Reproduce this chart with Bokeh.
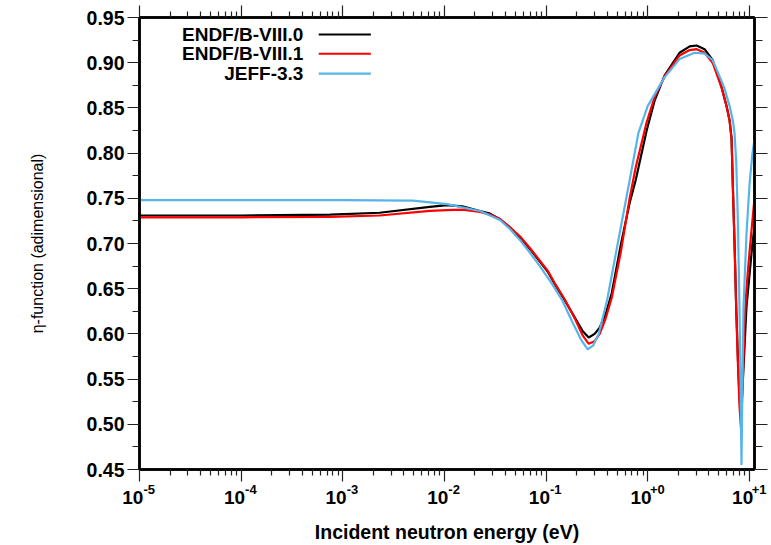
from bokeh.plotting import figure
from bokeh.models import (FixedTicker, LinearAxis, LogAxis, Label, BoxAnnotation,
                          CustomJSTickFormatter, PrintfTickFormatter)
from bokeh.embed import file_html
from bokeh.resources import INLINE

# ---------------- data ----------------
e_b80 = [1e-5, 1e-4, 7.5e-4, 2.3e-3, 7.2e-3, 0.0106, 0.015, 0.0224, 0.0281, 0.0352, 0.0441,
         0.0553, 0.0693, 0.0869, 0.105, 0.122, 0.153, 0.192, 0.230, 0.263, 0.301, 0.337, 0.386,
         0.443, 0.543, 0.665, 0.762, 0.977, 1.17, 1.47, 2.06, 2.59, 3.03, 3.63, 4.35, 5.33,
         5.97, 6.40, 6.69, 6.89, 7.16, 7.44, 7.74, 8.01, 8.29, 8.57, 8.97, 9.38, 10.04,
         10.74, 11.25]
eta_b80 = [0.731, 0.731, 0.732, 0.734, 0.7405, 0.7425, 0.741, 0.736, 0.733, 0.727, 0.718,
           0.707, 0.694, 0.680, 0.668, 0.655, 0.637, 0.618, 0.603, 0.596, 0.600, 0.607, 0.622,
           0.645, 0.698, 0.745, 0.770, 0.825, 0.858, 0.886, 0.911, 0.918, 0.919, 0.915,
           0.903, 0.873, 0.852, 0.836, 0.816, 0.763, 0.700, 0.627, 0.570, 0.530, 0.510,
           0.540, 0.585, 0.630, 0.665, 0.700, 0.718]

e_b81 = [1e-5, 1e-4, 7.5e-4, 2.3e-3, 7.2e-3, 0.0106, 0.015, 0.0224, 0.0281, 0.0352, 0.0441,
         0.0553, 0.0693, 0.0869, 0.105, 0.122, 0.153, 0.192, 0.230, 0.263, 0.301, 0.337, 0.386,
         0.443, 0.543, 0.665, 0.762, 0.977, 1.17, 1.47, 2.06, 2.59, 3.03, 3.63, 4.35, 5.33,
         5.97, 6.40, 6.69, 6.89, 7.16, 7.44, 7.74, 8.01, 8.29, 8.57, 8.97, 9.38, 10.04,
         10.74, 11.25]
eta_b81 = [0.729, 0.729, 0.7295, 0.731, 0.736, 0.737, 0.7375, 0.735, 0.732, 0.727, 0.718,
           0.708, 0.695, 0.681, 0.669, 0.656, 0.638, 0.617, 0.598, 0.589, 0.592, 0.600, 0.617,
           0.640, 0.690, 0.750, 0.784, 0.834, 0.862, 0.885, 0.908, 0.914, 0.915, 0.911,
           0.900, 0.873, 0.852, 0.836, 0.816, 0.763, 0.700, 0.627, 0.565, 0.520, 0.495,
           0.540, 0.610, 0.650, 0.690, 0.726, 0.750]

e_j33 = [1e-5, 1e-4, 1e-3, 4.9e-3, 0.0106, 0.015, 0.0224, 0.0281, 0.0352, 0.0441, 0.0553,
         0.0693, 0.0869, 0.115, 0.143, 0.180, 0.220, 0.257, 0.290, 0.330, 0.400, 0.494,
         0.665, 0.81, 1.00, 1.47, 2.06, 2.90, 3.63, 4.35, 5.65, 6.40, 6.89, 7.16, 7.44, 7.74,
         8.01, 8.20, 8.38, 8.57, 8.77, 9.38, 10.04, 10.74, 11.25]
eta_j33 = [0.748, 0.748, 0.748, 0.7475, 0.7436, 0.740, 0.736, 0.731, 0.726, 0.716, 0.704,
           0.690, 0.675, 0.655, 0.638, 0.614, 0.594, 0.583, 0.587, 0.600, 0.638, 0.693,
           0.770, 0.822, 0.852, 0.884, 0.904, 0.911, 0.910, 0.903, 0.873, 0.852, 0.836,
           0.822, 0.790, 0.720, 0.627, 0.545, 0.455, 0.550, 0.630, 0.710, 0.765, 0.800,
           0.815]

series_names = ["ENDF/B-VIII.0", "ENDF/B-VIII.1", "JEFF-3.3"]
series_colors = ["#000000", "#ff0000", "#56b4e9"]

x_major = [1e-5, 1e-4, 1e-3, 1e-2, 1e-1, 1e0, 1e1]
x_tick_base = "10"
x_tick_exp = ["-5", "-4", "-3", "-2", "-1", "+0", "+1"]
y_major = [0.45, 0.50, 0.55, 0.60, 0.65, 0.70, 0.75, 0.80, 0.85, 0.90, 0.95]
y_minor = [0.475, 0.525, 0.575, 0.625, 0.675, 0.725, 0.775, 0.825, 0.875, 0.925]
x_minor = [m * d for d in x_major[:-1] for m in range(2, 10)]

# legend placement (data units)
leg_text_x = 4.1e-4
leg_line_x0, leg_line_x1 = 5.8e-4, 1.89e-3
leg_y = [0.9312, 0.9099, 0.8879]
leg_half = 0.0012

FONT = "Liberation Sans"

p = figure(width=771, height=545, x_axis_type="log", x_range=(1e-5, 11.25),
           y_range=(0.45, 0.95), output_backend="svg", toolbar_location=None,
           min_border_left=139, min_border_right=16, min_border_top=17,
           min_border_bottom=75)
p.grid.visible = False
p.background_fill_color = "white"
p.border_fill_color = "white"
p.outline_line_color = "black"
p.outline_line_width = 2.5

xt = FixedTicker(ticks=x_major, minor_ticks=x_minor)
yt = FixedTicker(ticks=y_major, minor_ticks=y_minor)
blank = CustomJSTickFormatter(code="return ' ';")

# exponent part of the x tick labels (padded so that it sits right of the tick)
exp_fmt = CustomJSTickFormatter(args=dict(vals=x_major, labels=x_tick_exp), code="""
let best = 0, d = 1e9;
for (let i = 0; i < vals.length; i++) {
  const dd = Math.abs(Math.log10(tick) - Math.log10(vals[i]));
  if (dd < d) { d = dd; best = i; }
}
return '\\u2002\\u2002\\u2002' + labels[best];
""")
# base part of the x tick labels (padded so that it sits left of the tick)
base_fmt = CustomJSTickFormatter(args=dict(base=x_tick_base),
                                 code="return base + '\\u2002\\u2009';")


def style_axis(ax, show_labels):
    ax.axis_line_color = "black"
    ax.axis_line_width = 2.5
    ax.major_tick_line_color = "#222222"
    ax.minor_tick_line_color = "#222222"
    ax.major_tick_line_width = 1.2
    ax.minor_tick_line_width = 1.2
    ax.major_tick_out = 12
    ax.major_tick_in = 0
    ax.minor_tick_out = 6
    ax.minor_tick_in = 0
    ax.major_label_text_color = "black"
    ax.axis_label_text_color = "black"
    if not show_labels:
        ax.formatter = blank
        ax.major_label_text_font_size = "2px"
        ax.major_label_standoff = 0


# bottom axis 1: ticks + exponents
xa = p.xaxis[0]
xa.ticker = xt
style_axis(xa, True)
xa.formatter = exp_fmt
xa.major_label_text_font = FONT
xa.major_label_text_font_style = "bold"
xa.major_label_text_font_size = "13px"
xa.major_label_standoff = 0

# bottom axis 2: the "10" bases + axis title
xb = LogAxis(ticker=xt, formatter=base_fmt)
xb.axis_line_color = None
xb.major_tick_line_color = None
xb.minor_tick_line_color = None
xb.major_tick_out = 0
xb.major_tick_in = 0
xb.minor_tick_out = 0
xb.minor_tick_in = 0
xb.major_label_text_color = "black"
xb.major_label_text_font = FONT
xb.major_label_text_font_style = "bold"
xb.major_label_text_font_size = "19px"
xb.major_label_standoff = -13
xb.axis_label = "Incident neutron energy (eV)"
xb.axis_label_text_color = "black"
xb.axis_label_text_font = FONT
xb.axis_label_text_font_style = "bold"
xb.axis_label_text_font_size = "19.5px"
xb.axis_label_standoff = 10
p.add_layout(xb, "below")

ya = p.yaxis[0]
ya.ticker = yt
ya.formatter = PrintfTickFormatter(format="%.2f")
style_axis(ya, True)
ya.minor_tick_out = 7
ya.major_label_text_font = FONT
ya.major_label_text_font_style = "bold"
ya.major_label_text_font_size = "19.5px"
ya.major_label_standoff = 3
ya.axis_label = "\u03b7-function (adimensional)"
ya.axis_label_text_font = FONT
ya.axis_label_text_font_style = "normal"
ya.axis_label_text_font_size = "16px"
ya.axis_label_standoff = 38

ra = LinearAxis(ticker=yt)
style_axis(ra, False)
ra.minor_tick_out = 8
ra.major_tick_out = 13
p.add_layout(ra, "right")

ta = LogAxis(ticker=xt)
style_axis(ta, False)
p.add_layout(ta, "above")

for e, eta, c in zip([e_b80, e_b81, e_j33], [eta_b80, eta_b81, eta_j33], series_colors):
    p.line(e, eta, line_color=c, line_width=2.2)

for name, c, y in zip(series_names, series_colors, leg_y):
    p.add_layout(Label(x=leg_text_x, y=y, text=name, text_align="right",
                       text_baseline="middle", text_font=FONT, text_font_style="bold",
                       text_font_size="19px", text_color="black"))
    p.add_layout(BoxAnnotation(left=leg_line_x0, right=leg_line_x1,
                               bottom=y - leg_half, top=y + leg_half,
                               fill_color=c, fill_alpha=1.0, line_alpha=0))

open("out.html", "w").write(file_html(p, INLINE))
